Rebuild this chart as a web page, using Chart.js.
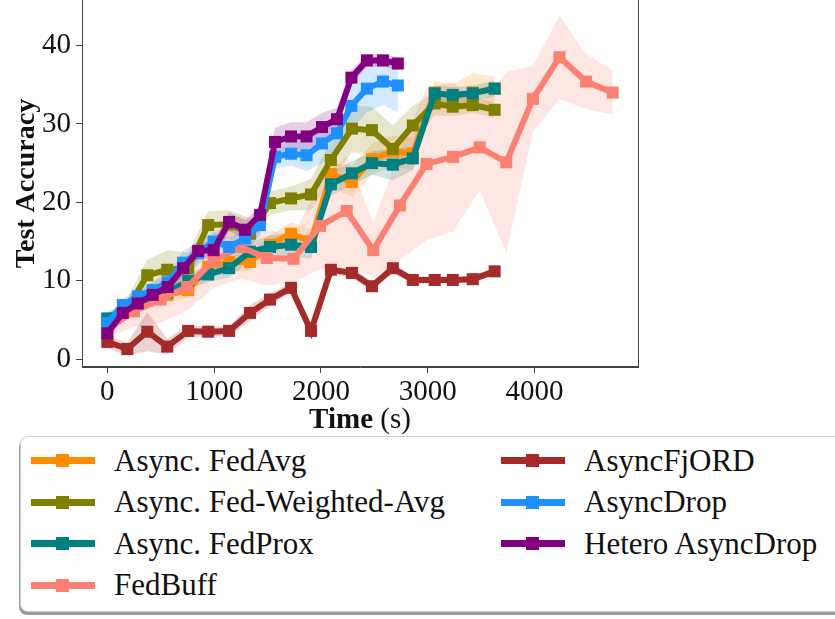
<!DOCTYPE html>
<html>
<head>
<meta charset="utf-8">
<script src="https://cdn.jsdelivr.net/npm/chart.js@4.4.1/dist/chart.umd.min.js"></script>
<style>
    body { margin: 0; background: #fff; overflow: hidden; }
    #wrap { position: relative; width: 835px; height: 619px; }
    #chart { position: absolute; left: 0; top: 0; }
    #xtitle {
        position: absolute; left: 260px; width: 200px; top: 402px; text-align: center;
        font-family: 'Liberation Serif', 'DejaVu Serif', serif; font-size: 29px; color: #111;
    }
    #legend {
        position: absolute; left: 20px; top: 436px; width: 840px; height: 176px;
        border: 1.5px solid #cfcfcf; border-radius: 8px;
        box-shadow: -1px 3px 0 #9a9a9a;
        box-sizing: border-box; background: #fff;
        display: grid; grid-auto-flow: column;
        grid-template-columns: 470px auto; grid-template-rows: repeat(4, 41.5px);
        padding: 3px 0 0 10px;
        font-family: 'Liberation Serif', 'DejaVu Serif', serif; font-size: 31px; color: #111;
    }
    .item { display: flex; align-items: center; }
    .sample { position: relative; width: 64px; height: 7px; margin-right: 19px; }
    .sample span { position: absolute; left: 25px; top: -3px; width: 13px; height: 13px; }
</style>
</head>
<body>
<div id="wrap">
    <canvas id="chart" width="835" height="430"></canvas>
    <div id="xtitle"><b>Time</b> (s)</div>
    <div id="legend"></div>
</div>
<script>
// time stamps (s)
const timeA = [0, 187, 374, 561, 757, 944, 1140, 1336, 1523, 1720, 1907, 2093, 2290, 2477, 2673, 2860, 3065, 3234, 3421, 3626];
const timeB = [0, 145, 285, 425, 565, 710, 850, 995, 1140, 1290, 1430, 1570, 1720, 1865, 2010, 2150, 2285, 2430, 2580, 2720];
const timeC = [0, 249, 498, 747, 996, 1245, 1494, 1743, 1992, 2241, 2490, 2739, 2988, 3237, 3486, 3735, 3984, 4233, 4482, 4731];

// mean test accuracy
const fedAvg = [5.0, 6.3, 7.5, 8.2, 8.8, 11.8, 12.4, 12.4, 14.6, 16.0, 15.0, 23.6, 22.6, 25.5, 26.5, 26.2, 34.0, 33.5, 34.0, 34.5];
const fedWeighted = [4.0, 6.5, 10.7, 11.4, 11.6, 17.1, 17.2, 16.0, 19.9, 20.5, 21.0, 25.4, 29.4, 29.2, 26.8, 29.8, 32.6, 32.2, 32.4, 31.8];
const fedProx = [5.2, 6.6, 7.8, 8.5, 10.0, 10.8, 11.6, 13.7, 14.3, 14.6, 14.3, 22.3, 23.7, 25.0, 24.8, 25.6, 33.9, 33.7, 33.9, 34.5];
const fedBuff = [3.8, 6.1, 7.6, 9.2, 12.6, 14.3, 12.9, 12.8, 17.0, 18.9, 13.9, 19.6, 24.9, 25.8, 27.0, 25.1, 33.2, 38.5, 35.4, 34.0];
const fjord = [2.2, 1.3, 3.5, 1.6, 3.6, 3.5, 3.6, 5.9, 7.6, 9.1, 3.6, 11.4, 11.0, 9.3, 11.6, 10.1, 10.1, 10.1, 10.2, 11.2];
const asyncDrop = [4.6, 6.9, 8.0, 8.8, 9.8, 12.3, 13.5, 15.0, 14.3, 15.4, 17.1, 25.8, 26.2, 26.0, 27.5, 28.8, 32.3, 34.5, 35.4, 34.9];
const hetero = [3.3, 5.9, 7.1, 8.2, 9.2, 11.6, 13.8, 13.9, 17.5, 16.5, 18.4, 27.7, 28.4, 28.4, 29.6, 30.6, 35.9, 38.1, 38.1, 37.7];

// std over runs (shaded band)
const fedAvgStd = [0.8, 0.8, 1, 1, 1, 1.2, 1.2, 1.2, 1.2, 1.5, 1.5, 1.5, 2, 2, 2, 2, 1.5, 1.5, 2.5, 1.5];
const fedWeightedStd = [1, 1.2, 2, 2.5, 2, 1.8, 1.8, 2, 1.5, 1.5, 2, 2.5, 3, 3, 3, 2.5, 1.5, 1.2, 1, 1];
const fedProxStd = [0.8, 0.8, 0.8, 1, 1, 1, 1.2, 1.2, 1.5, 1.5, 1.5, 1.5, 1.5, 1.5, 2, 1.5, 1, 1, 1, 1];
const fedBuffStd = [1, 2, 3, 3, 3.5, 4, 3.5, 3, 5.5, 7, 3.5, 7, 9.7, 9.5, 5.5, 11.5, 4.2, 5.3, 3.5, 2.8];
const fjordStd = [0.8, 0.8, 2.5, 1, 0.8, 0.6, 0.6, 1, 0.8, 0.6, 0.8, 0.5, 0.6, 0.6, 0.6, 0.5, 0.4, 0.4, 0.4, 0.5];
const asyncDropStd = [0.8, 0.8, 1, 1, 1, 1.5, 1.5, 1.2, 1.2, 1.2, 1.5, 1.5, 1.5, 2, 2.5, 2.5, 3, 3, 3, 3.4];
const heteroStd = [0.8, 0.8, 0.8, 0.8, 1, 1, 1, 1.2, 1.2, 1.2, 1.2, 1.8, 1.8, 1.8, 1.8, 1.5, 1, 0.8, 0.8, 0.8];

const xTicks = [0, 1000, 2000, 3000, 4000];
const yTicks = [0, 10, 20, 30, 40];

const series = [
    { label: "Async. FedAvg", color: "#FF8C00", band: "rgba(255,140,0,0.2)", t: timeA, y: fedAvg, s: fedAvgStd },
    { label: "Async. Fed-Weighted-Avg", color: "#808000", band: "rgba(128,128,0,0.2)", t: timeA, y: fedWeighted, s: fedWeightedStd },
    { label: "Async. FedProx", color: "#008080", band: "rgba(0,128,128,0.2)", t: timeA, y: fedProx, s: fedProxStd },
    { label: "FedBuff", color: "#FA8072", band: "rgba(250,128,114,0.2)", t: timeC, y: fedBuff, s: fedBuffStd },
    { label: "AsyncFjORD", color: "#A52A2A", band: "rgba(165,42,42,0.2)", t: timeA, y: fjord, s: fjordStd },
    { label: "AsyncDrop", color: "#1E90FF", band: "rgba(30,144,255,0.2)", t: timeB, y: asyncDrop, s: asyncDropStd },
    { label: "Hetero AsyncDrop", color: "#800080", band: "rgba(128,0,128,0.2)", t: timeB, y: hetero, s: heteroStd }
];

const fontFam = "'Liberation Serif', 'DejaVu Serif', serif";

// build datasets: band (upper + lower) then the mean line
const datasets = [];
series.forEach(function (sr, i) {
    datasets.push({
        data: sr.t.map((t, k) => ({ x: t, y: sr.y[k] + sr.s[k] })),
        borderWidth: 0, pointRadius: 0, fill: "+1",
        backgroundColor: sr.band, order: 100 - i * 3
    });
    datasets.push({
        data: sr.t.map((t, k) => ({ x: t, y: sr.y[k] - sr.s[k] })),
        borderWidth: 0, pointRadius: 0, fill: false, order: 99 - i * 3
    });
    datasets.push({
        label: sr.label,
        data: sr.t.map((t, k) => ({ x: t, y: sr.y[k] })),
        borderColor: sr.color, backgroundColor: sr.color,
        borderWidth: 6, pointStyle: "rect", pointRadius: 8.5,
        pointBorderWidth: 0, fill: false, order: 20 - i
    });
});

// frame around the plot area
const frame = {
    id: "frame",
    afterDraw(chart) {
        const a = chart.chartArea, ctx = chart.ctx;
        ctx.save();
        ctx.strokeStyle = "#444";
        ctx.lineWidth = 1;
        ctx.strokeRect(a.left + 0.5, a.top - 1, a.right - a.left, a.bottom - a.top + 0.5);
        ctx.restore();
    }
};

// the plot runs off the top of the figure, so drop the label padding
function noPad(s) {
    s.paddingTop = 0;
    s.paddingBottom = 0;
    s.paddingLeft = 0;
    s.paddingRight = 0;
}

new Chart(document.getElementById("chart"), {
    type: "line",
    data: { datasets: datasets },
    plugins: [frame],
    options: {
        responsive: false,
        animation: false,
        layout: { autoPadding: false, padding: { top: 0, right: 197, left: 0, bottom: 0 } },
        plugins: { legend: { display: false }, tooltip: { enabled: false } },
        scales: {
            x: {
                type: "linear", min: -237, max: 4968,
                afterBuildTicks: s => { s.ticks = xTicks.map(v => ({ value: v })); },
                afterFit: s => { s.height = 63; noPad(s); },
                grid: { drawOnChartArea: false, tickLength: 6, color: "#444" },
                border: { color: "#444" },
                ticks: {
                    color: "#111", padding: 2, maxRotation: 0,
                    font: { family: fontFam, size: 29 },
                    callback: v => String(v)
                }
            },
            y: {
                min: -1, max: 45.8,
                afterBuildTicks: s => { s.ticks = yTicks.map(v => ({ value: v })); },
                afterFit: s => { s.width = 82; noPad(s); },
                grid: { drawOnChartArea: false, tickLength: 6, color: "#444" },
                border: { color: "#444" },
                ticks: { color: "#111", padding: 5, font: { family: fontFam, size: 29 }, callback: v => String(v) },
                title: {
                    display: true, text: "Test Accuracy", color: "#111", padding: { top: 10, bottom: 0 },
                    font: { family: fontFam, size: 28, weight: "bold" }
                }
            }
        }
    }
});

// legend in two columns, filled column by column
const legend = document.getElementById("legend");
series.forEach(function (sr) {
    const item = document.createElement("div");
    item.className = "item";
    const sample = document.createElement("div");
    sample.className = "sample";
    sample.style.background = sr.color;
    const mark = document.createElement("span");
    mark.style.background = sr.color;
    sample.appendChild(mark);
    const txt = document.createElement("span");
    txt.textContent = sr.label;
    item.appendChild(sample);
    item.appendChild(txt);
    legend.appendChild(item);
});
</script>
</body>
</html>
